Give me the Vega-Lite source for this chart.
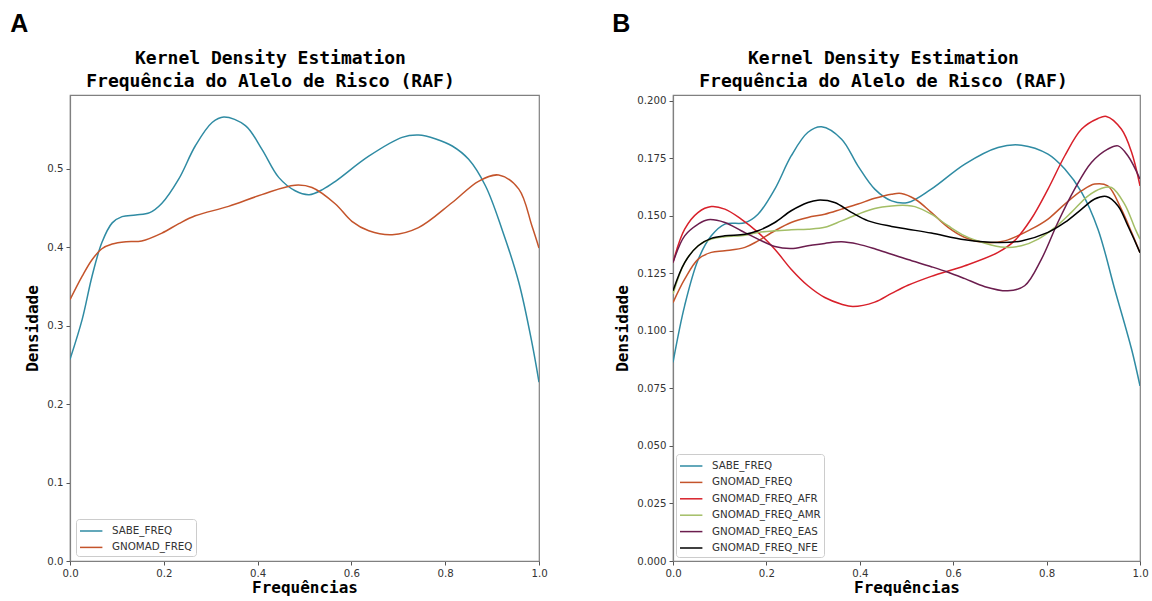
{
  "$schema": "https://vega.github.io/schema/vega-lite/v6.json",
  "background": "white",
  "padding": {"left": 10, "top": 12, "right": 0, "bottom": 3},
  "config": {
    "font": "DejaVu Sans",
    "view": {"stroke": "#808080", "strokeWidth": 1.2},
    "axis": {
      "grid": false,
      "labelFlush": false,
      "domainColor": "#808080",
      "domainWidth": 1.2,
      "tickColor": "#555555",
      "tickSize": 4,
      "labelFont": "DejaVu Sans",
      "labelFontSize": 10.2,
      "labelColor": "#333333",
      "labelPadding": 3,
      "titleFont": "DejaVu Sans Mono",
      "titleFontSize": 16,
      "titleFontWeight": "bold",
      "titleColor": "#000000"
    },
    "legend": {
      "orient": "none",
      "title": null,
      "fillColor": "white",
      "strokeColor": "#cccccc",
      "cornerRadius": 3,
      "padding": 3,
      "symbolType": "M-1,0H1.8",
      "symbolSize": 256,
      "symbolStrokeWidth": 1.5,
      "labelOffset": 15,
      "labelFont": "DejaVu Sans",
      "labelFontSize": 10.3,
      "labelColor": "#333333",
      "rowPadding": 1.4
    }
  },
  "datasets": {
    "a": [
      {"s": "SABE_FREQ", "x": 0, "y": 0.257}, {"s": "SABE_FREQ", "x": 0.026, "y": 0.308}, {"s": "SABE_FREQ", "x": 0.047, "y": 0.363}, {"s": "SABE_FREQ", "x": 0.068, "y": 0.406}, {"s": "SABE_FREQ", "x": 0.09, "y": 0.431}, {"s": "SABE_FREQ", "x": 0.111, "y": 0.439}, {"s": "SABE_FREQ", "x": 0.14, "y": 0.441}, {"s": "SABE_FREQ", "x": 0.17, "y": 0.444}, {"s": "SABE_FREQ", "x": 0.196, "y": 0.456}, {"s": "SABE_FREQ", "x": 0.232, "y": 0.487}, {"s": "SABE_FREQ", "x": 0.267, "y": 0.529}, {"s": "SABE_FREQ", "x": 0.303, "y": 0.559}, {"s": "SABE_FREQ", "x": 0.328, "y": 0.566}, {"s": "SABE_FREQ", "x": 0.374, "y": 0.555}, {"s": "SABE_FREQ", "x": 0.409, "y": 0.525}, {"s": "SABE_FREQ", "x": 0.445, "y": 0.489}, {"s": "SABE_FREQ", "x": 0.48, "y": 0.472}, {"s": "SABE_FREQ", "x": 0.51, "y": 0.467}, {"s": "SABE_FREQ", "x": 0.54, "y": 0.474}, {"s": "SABE_FREQ", "x": 0.566, "y": 0.484}, {"s": "SABE_FREQ", "x": 0.637, "y": 0.516}, {"s": "SABE_FREQ", "x": 0.708, "y": 0.54}, {"s": "SABE_FREQ", "x": 0.743, "y": 0.543}, {"s": "SABE_FREQ", "x": 0.78, "y": 0.538}, {"s": "SABE_FREQ", "x": 0.815, "y": 0.529}, {"s": "SABE_FREQ", "x": 0.85, "y": 0.512}, {"s": "SABE_FREQ", "x": 0.886, "y": 0.478}, {"s": "SABE_FREQ", "x": 0.921, "y": 0.423}, {"s": "SABE_FREQ", "x": 0.957, "y": 0.355}, {"s": "SABE_FREQ", "x": 0.985, "y": 0.278}, {"s": "SABE_FREQ", "x": 1.0, "y": 0.228},
      {"s": "GNOMAD_FREQ", "x": 0, "y": 0.333}, {"s": "GNOMAD_FREQ", "x": 0.026, "y": 0.363}, {"s": "GNOMAD_FREQ", "x": 0.047, "y": 0.384}, {"s": "GNOMAD_FREQ", "x": 0.068, "y": 0.398}, {"s": "GNOMAD_FREQ", "x": 0.09, "y": 0.404}, {"s": "GNOMAD_FREQ", "x": 0.12, "y": 0.407}, {"s": "GNOMAD_FREQ", "x": 0.153, "y": 0.408}, {"s": "GNOMAD_FREQ", "x": 0.196, "y": 0.418}, {"s": "GNOMAD_FREQ", "x": 0.232, "y": 0.43}, {"s": "GNOMAD_FREQ", "x": 0.267, "y": 0.44}, {"s": "GNOMAD_FREQ", "x": 0.338, "y": 0.452}, {"s": "GNOMAD_FREQ", "x": 0.409, "y": 0.467}, {"s": "GNOMAD_FREQ", "x": 0.48, "y": 0.479}, {"s": "GNOMAD_FREQ", "x": 0.516, "y": 0.476}, {"s": "GNOMAD_FREQ", "x": 0.566, "y": 0.455}, {"s": "GNOMAD_FREQ", "x": 0.601, "y": 0.433}, {"s": "GNOMAD_FREQ", "x": 0.637, "y": 0.421}, {"s": "GNOMAD_FREQ", "x": 0.687, "y": 0.416}, {"s": "GNOMAD_FREQ", "x": 0.743, "y": 0.425}, {"s": "GNOMAD_FREQ", "x": 0.815, "y": 0.457}, {"s": "GNOMAD_FREQ", "x": 0.871, "y": 0.484}, {"s": "GNOMAD_FREQ", "x": 0.914, "y": 0.492}, {"s": "GNOMAD_FREQ", "x": 0.957, "y": 0.474}, {"s": "GNOMAD_FREQ", "x": 0.985, "y": 0.427}, {"s": "GNOMAD_FREQ", "x": 1.0, "y": 0.399}
    ],
    "b": [
      {"s": "SABE_FREQ", "x": 0, "y": 0.0863}, {"s": "SABE_FREQ", "x": 0.025, "y": 0.111}, {"s": "SABE_FREQ", "x": 0.054, "y": 0.131}, {"s": "SABE_FREQ", "x": 0.082, "y": 0.1413}, {"s": "SABE_FREQ", "x": 0.111, "y": 0.1464}, {"s": "SABE_FREQ", "x": 0.154, "y": 0.147}, {"s": "SABE_FREQ", "x": 0.182, "y": 0.1507}, {"s": "SABE_FREQ", "x": 0.218, "y": 0.1616}, {"s": "SABE_FREQ", "x": 0.253, "y": 0.176}, {"s": "SABE_FREQ", "x": 0.289, "y": 0.1863}, {"s": "SABE_FREQ", "x": 0.318, "y": 0.1887}, {"s": "SABE_FREQ", "x": 0.361, "y": 0.1833}, {"s": "SABE_FREQ", "x": 0.396, "y": 0.1717}, {"s": "SABE_FREQ", "x": 0.432, "y": 0.1616}, {"s": "SABE_FREQ", "x": 0.468, "y": 0.1565}, {"s": "SABE_FREQ", "x": 0.503, "y": 0.1558}, {"s": "SABE_FREQ", "x": 0.553, "y": 0.1616}, {"s": "SABE_FREQ", "x": 0.625, "y": 0.1725}, {"s": "SABE_FREQ", "x": 0.696, "y": 0.1797}, {"s": "SABE_FREQ", "x": 0.746, "y": 0.1807}, {"s": "SABE_FREQ", "x": 0.803, "y": 0.1768}, {"s": "SABE_FREQ", "x": 0.839, "y": 0.1703}, {"s": "SABE_FREQ", "x": 0.875, "y": 0.1602}, {"s": "SABE_FREQ", "x": 0.91, "y": 0.1442}, {"s": "SABE_FREQ", "x": 0.946, "y": 0.118}, {"s": "SABE_FREQ", "x": 0.982, "y": 0.092}, {"s": "SABE_FREQ", "x": 1.0, "y": 0.0761},
      {"s": "GNOMAD_FREQ", "x": 0, "y": 0.1123}, {"s": "GNOMAD_FREQ", "x": 0.025, "y": 0.1225}, {"s": "GNOMAD_FREQ", "x": 0.054, "y": 0.1312}, {"s": "GNOMAD_FREQ", "x": 0.082, "y": 0.1341}, {"s": "GNOMAD_FREQ", "x": 0.111, "y": 0.1348}, {"s": "GNOMAD_FREQ", "x": 0.154, "y": 0.1363}, {"s": "GNOMAD_FREQ", "x": 0.182, "y": 0.1391}, {"s": "GNOMAD_FREQ", "x": 0.218, "y": 0.1435}, {"s": "GNOMAD_FREQ", "x": 0.253, "y": 0.1471}, {"s": "GNOMAD_FREQ", "x": 0.289, "y": 0.1493}, {"s": "GNOMAD_FREQ", "x": 0.325, "y": 0.1507}, {"s": "GNOMAD_FREQ", "x": 0.361, "y": 0.1529}, {"s": "GNOMAD_FREQ", "x": 0.396, "y": 0.1551}, {"s": "GNOMAD_FREQ", "x": 0.432, "y": 0.1576}, {"s": "GNOMAD_FREQ", "x": 0.468, "y": 0.1594}, {"s": "GNOMAD_FREQ", "x": 0.489, "y": 0.1597}, {"s": "GNOMAD_FREQ", "x": 0.518, "y": 0.1573}, {"s": "GNOMAD_FREQ", "x": 0.553, "y": 0.1515}, {"s": "GNOMAD_FREQ", "x": 0.589, "y": 0.145}, {"s": "GNOMAD_FREQ", "x": 0.625, "y": 0.1406}, {"s": "GNOMAD_FREQ", "x": 0.668, "y": 0.1384}, {"s": "GNOMAD_FREQ", "x": 0.71, "y": 0.1391}, {"s": "GNOMAD_FREQ", "x": 0.767, "y": 0.1442}, {"s": "GNOMAD_FREQ", "x": 0.803, "y": 0.1486}, {"s": "GNOMAD_FREQ", "x": 0.839, "y": 0.1551}, {"s": "GNOMAD_FREQ", "x": 0.875, "y": 0.1609}, {"s": "GNOMAD_FREQ", "x": 0.903, "y": 0.1638}, {"s": "GNOMAD_FREQ", "x": 0.931, "y": 0.163}, {"s": "GNOMAD_FREQ", "x": 0.96, "y": 0.1529}, {"s": "GNOMAD_FREQ", "x": 0.982, "y": 0.1428}, {"s": "GNOMAD_FREQ", "x": 1.0, "y": 0.134},
      {"s": "GNOMAD_FREQ_AFR", "x": 0, "y": 0.1297}, {"s": "GNOMAD_FREQ_AFR", "x": 0.025, "y": 0.1442}, {"s": "GNOMAD_FREQ_AFR", "x": 0.054, "y": 0.1515}, {"s": "GNOMAD_FREQ_AFR", "x": 0.082, "y": 0.154}, {"s": "GNOMAD_FREQ_AFR", "x": 0.111, "y": 0.1529}, {"s": "GNOMAD_FREQ_AFR", "x": 0.146, "y": 0.1486}, {"s": "GNOMAD_FREQ_AFR", "x": 0.182, "y": 0.1428}, {"s": "GNOMAD_FREQ_AFR", "x": 0.218, "y": 0.1355}, {"s": "GNOMAD_FREQ_AFR", "x": 0.253, "y": 0.1268}, {"s": "GNOMAD_FREQ_AFR", "x": 0.289, "y": 0.1196}, {"s": "GNOMAD_FREQ_AFR", "x": 0.325, "y": 0.1145}, {"s": "GNOMAD_FREQ_AFR", "x": 0.361, "y": 0.1116}, {"s": "GNOMAD_FREQ_AFR", "x": 0.385, "y": 0.1106}, {"s": "GNOMAD_FREQ_AFR", "x": 0.432, "y": 0.1125}, {"s": "GNOMAD_FREQ_AFR", "x": 0.468, "y": 0.1163}, {"s": "GNOMAD_FREQ_AFR", "x": 0.503, "y": 0.1198}, {"s": "GNOMAD_FREQ_AFR", "x": 0.553, "y": 0.1237}, {"s": "GNOMAD_FREQ_AFR", "x": 0.625, "y": 0.1283}, {"s": "GNOMAD_FREQ_AFR", "x": 0.696, "y": 0.1341}, {"s": "GNOMAD_FREQ_AFR", "x": 0.731, "y": 0.1391}, {"s": "GNOMAD_FREQ_AFR", "x": 0.767, "y": 0.1486}, {"s": "GNOMAD_FREQ_AFR", "x": 0.803, "y": 0.1616}, {"s": "GNOMAD_FREQ_AFR", "x": 0.839, "y": 0.1761}, {"s": "GNOMAD_FREQ_AFR", "x": 0.875, "y": 0.1877}, {"s": "GNOMAD_FREQ_AFR", "x": 0.91, "y": 0.1923}, {"s": "GNOMAD_FREQ_AFR", "x": 0.928, "y": 0.1932}, {"s": "GNOMAD_FREQ_AFR", "x": 0.96, "y": 0.1877}, {"s": "GNOMAD_FREQ_AFR", "x": 0.982, "y": 0.1776}, {"s": "GNOMAD_FREQ_AFR", "x": 1.0, "y": 0.163},
      {"s": "GNOMAD_FREQ_AMR", "x": 0, "y": 0.116}, {"s": "GNOMAD_FREQ_AMR", "x": 0.025, "y": 0.1297}, {"s": "GNOMAD_FREQ_AMR", "x": 0.054, "y": 0.137}, {"s": "GNOMAD_FREQ_AMR", "x": 0.082, "y": 0.1399}, {"s": "GNOMAD_FREQ_AMR", "x": 0.111, "y": 0.1409}, {"s": "GNOMAD_FREQ_AMR", "x": 0.154, "y": 0.1416}, {"s": "GNOMAD_FREQ_AMR", "x": 0.182, "y": 0.1428}, {"s": "GNOMAD_FREQ_AMR", "x": 0.218, "y": 0.1435}, {"s": "GNOMAD_FREQ_AMR", "x": 0.253, "y": 0.1439}, {"s": "GNOMAD_FREQ_AMR", "x": 0.289, "y": 0.1442}, {"s": "GNOMAD_FREQ_AMR", "x": 0.325, "y": 0.145}, {"s": "GNOMAD_FREQ_AMR", "x": 0.361, "y": 0.1478}, {"s": "GNOMAD_FREQ_AMR", "x": 0.396, "y": 0.1507}, {"s": "GNOMAD_FREQ_AMR", "x": 0.432, "y": 0.1532}, {"s": "GNOMAD_FREQ_AMR", "x": 0.468, "y": 0.1543}, {"s": "GNOMAD_FREQ_AMR", "x": 0.5, "y": 0.1545}, {"s": "GNOMAD_FREQ_AMR", "x": 0.518, "y": 0.154}, {"s": "GNOMAD_FREQ_AMR", "x": 0.553, "y": 0.1507}, {"s": "GNOMAD_FREQ_AMR", "x": 0.589, "y": 0.1457}, {"s": "GNOMAD_FREQ_AMR", "x": 0.625, "y": 0.1413}, {"s": "GNOMAD_FREQ_AMR", "x": 0.668, "y": 0.1381}, {"s": "GNOMAD_FREQ_AMR", "x": 0.71, "y": 0.1363}, {"s": "GNOMAD_FREQ_AMR", "x": 0.746, "y": 0.137}, {"s": "GNOMAD_FREQ_AMR", "x": 0.782, "y": 0.1399}, {"s": "GNOMAD_FREQ_AMR", "x": 0.818, "y": 0.145}, {"s": "GNOMAD_FREQ_AMR", "x": 0.853, "y": 0.1515}, {"s": "GNOMAD_FREQ_AMR", "x": 0.889, "y": 0.1587}, {"s": "GNOMAD_FREQ_AMR", "x": 0.917, "y": 0.1619}, {"s": "GNOMAD_FREQ_AMR", "x": 0.939, "y": 0.1623}, {"s": "GNOMAD_FREQ_AMR", "x": 0.967, "y": 0.1551}, {"s": "GNOMAD_FREQ_AMR", "x": 0.99, "y": 0.1442}, {"s": "GNOMAD_FREQ_AMR", "x": 1.0, "y": 0.1399},
      {"s": "GNOMAD_FREQ_EAS", "x": 0, "y": 0.1297}, {"s": "GNOMAD_FREQ_EAS", "x": 0.025, "y": 0.1413}, {"s": "GNOMAD_FREQ_EAS", "x": 0.054, "y": 0.1464}, {"s": "GNOMAD_FREQ_EAS", "x": 0.075, "y": 0.1483}, {"s": "GNOMAD_FREQ_EAS", "x": 0.111, "y": 0.1471}, {"s": "GNOMAD_FREQ_EAS", "x": 0.146, "y": 0.1435}, {"s": "GNOMAD_FREQ_EAS", "x": 0.182, "y": 0.1399}, {"s": "GNOMAD_FREQ_EAS", "x": 0.218, "y": 0.1367}, {"s": "GNOMAD_FREQ_EAS", "x": 0.253, "y": 0.1358}, {"s": "GNOMAD_FREQ_EAS", "x": 0.289, "y": 0.137}, {"s": "GNOMAD_FREQ_EAS", "x": 0.325, "y": 0.138}, {"s": "GNOMAD_FREQ_EAS", "x": 0.361, "y": 0.1387}, {"s": "GNOMAD_FREQ_EAS", "x": 0.396, "y": 0.1377}, {"s": "GNOMAD_FREQ_EAS", "x": 0.432, "y": 0.1357}, {"s": "GNOMAD_FREQ_EAS", "x": 0.468, "y": 0.1333}, {"s": "GNOMAD_FREQ_EAS", "x": 0.503, "y": 0.131}, {"s": "GNOMAD_FREQ_EAS", "x": 0.553, "y": 0.1279}, {"s": "GNOMAD_FREQ_EAS", "x": 0.589, "y": 0.1255}, {"s": "GNOMAD_FREQ_EAS", "x": 0.625, "y": 0.1227}, {"s": "GNOMAD_FREQ_EAS", "x": 0.668, "y": 0.1192}, {"s": "GNOMAD_FREQ_EAS", "x": 0.717, "y": 0.1174}, {"s": "GNOMAD_FREQ_EAS", "x": 0.753, "y": 0.1196}, {"s": "GNOMAD_FREQ_EAS", "x": 0.789, "y": 0.1312}, {"s": "GNOMAD_FREQ_EAS", "x": 0.824, "y": 0.1471}, {"s": "GNOMAD_FREQ_EAS", "x": 0.86, "y": 0.1616}, {"s": "GNOMAD_FREQ_EAS", "x": 0.896, "y": 0.1732}, {"s": "GNOMAD_FREQ_EAS", "x": 0.931, "y": 0.179}, {"s": "GNOMAD_FREQ_EAS", "x": 0.953, "y": 0.1804}, {"s": "GNOMAD_FREQ_EAS", "x": 0.974, "y": 0.1761}, {"s": "GNOMAD_FREQ_EAS", "x": 1.0, "y": 0.166},
      {"s": "GNOMAD_FREQ_NFE", "x": 0, "y": 0.1174}, {"s": "GNOMAD_FREQ_NFE", "x": 0.025, "y": 0.1297}, {"s": "GNOMAD_FREQ_NFE", "x": 0.054, "y": 0.137}, {"s": "GNOMAD_FREQ_NFE", "x": 0.082, "y": 0.1402}, {"s": "GNOMAD_FREQ_NFE", "x": 0.111, "y": 0.1413}, {"s": "GNOMAD_FREQ_NFE", "x": 0.154, "y": 0.142}, {"s": "GNOMAD_FREQ_NFE", "x": 0.182, "y": 0.1435}, {"s": "GNOMAD_FREQ_NFE", "x": 0.218, "y": 0.1471}, {"s": "GNOMAD_FREQ_NFE", "x": 0.253, "y": 0.1522}, {"s": "GNOMAD_FREQ_NFE", "x": 0.289, "y": 0.1558}, {"s": "GNOMAD_FREQ_NFE", "x": 0.31, "y": 0.1568}, {"s": "GNOMAD_FREQ_NFE", "x": 0.346, "y": 0.1558}, {"s": "GNOMAD_FREQ_NFE", "x": 0.382, "y": 0.1515}, {"s": "GNOMAD_FREQ_NFE", "x": 0.418, "y": 0.1478}, {"s": "GNOMAD_FREQ_NFE", "x": 0.468, "y": 0.1454}, {"s": "GNOMAD_FREQ_NFE", "x": 0.503, "y": 0.1442}, {"s": "GNOMAD_FREQ_NFE", "x": 0.553, "y": 0.1425}, {"s": "GNOMAD_FREQ_NFE", "x": 0.625, "y": 0.1396}, {"s": "GNOMAD_FREQ_NFE", "x": 0.696, "y": 0.1384}, {"s": "GNOMAD_FREQ_NFE", "x": 0.746, "y": 0.1391}, {"s": "GNOMAD_FREQ_NFE", "x": 0.803, "y": 0.1428}, {"s": "GNOMAD_FREQ_NFE", "x": 0.839, "y": 0.1471}, {"s": "GNOMAD_FREQ_NFE", "x": 0.875, "y": 0.1529}, {"s": "GNOMAD_FREQ_NFE", "x": 0.903, "y": 0.1573}, {"s": "GNOMAD_FREQ_NFE", "x": 0.928, "y": 0.1584}, {"s": "GNOMAD_FREQ_NFE", "x": 0.953, "y": 0.1543}, {"s": "GNOMAD_FREQ_NFE", "x": 0.974, "y": 0.1457}, {"s": "GNOMAD_FREQ_NFE", "x": 1.0, "y": 0.134}
    ]
  },
  "spacing": 64,
  "hconcat": [
    {
      "title": {"text": "A", "anchor": "start", "dx": -14, "offset": 12, "font": "Liberation Sans", "fontSize": 25, "fontWeight": "bold", "color": "#000000"},
      "vconcat": [
        {
          "title": {"text": ["Kernel Density Estimation", "Frequência do Alelo de Risco (RAF)"], "font": "DejaVu Sans Mono", "fontSize": 18, "fontWeight": "bold", "lineHeight": 23, "anchor": "middle", "dx": -34, "offset": 4, "color": "#000000"},
          "width": 469,
          "height": 466,
          "data": {"name": "a"},
          "mark": {"type": "line", "interpolate": "catmull-rom", "strokeWidth": 1.5, "clip": true},
          "encoding": {
            "x": {"field": "x", "type": "quantitative", "scale": {"domain": [0, 1], "nice": false}, "axis": {"title": "Frequências", "values": [0, 0.2, 0.4, 0.6, 0.8, 1.0], "format": ".1f", "titlePadding": 1, "labelFlush": false}},
            "y": {"field": "y", "type": "quantitative", "scale": {"domain": [0, 0.594], "nice": false}, "axis": {"title": "Densidade", "values": [0, 0.1, 0.2, 0.3, 0.4, 0.5], "format": ".1f", "titlePadding": 6, "labelFlush": false}},
            "color": {"field": "s", "type": "nominal", "scale": {"domain": ["SABE_FREQ", "GNOMAD_FREQ"], "range": ["#2f8ba3", "#c4542b"]}, "legend": {"legendX": 6, "legendY": 424}},
            "order": {"field": "x", "type": "quantitative"}
          }
        }
      ]
    },
    {
      "title": {"text": "B", "anchor": "start", "dx": -2, "offset": 12, "font": "Liberation Sans", "fontSize": 25, "fontWeight": "bold", "color": "#000000"},
      "vconcat": [
        {
          "title": {"text": ["Kernel Density Estimation", "Frequência do Alelo de Risco (RAF)"], "font": "DejaVu Sans Mono", "fontSize": 18, "fontWeight": "bold", "lineHeight": 23, "anchor": "middle", "dx": -23, "offset": 4, "color": "#000000"},
          "width": 467,
          "height": 466,
          "data": {"name": "b"},
          "mark": {"type": "line", "interpolate": "catmull-rom", "strokeWidth": 1.5, "clip": true},
          "encoding": {
            "x": {"field": "x", "type": "quantitative", "scale": {"domain": [0, 1], "nice": false}, "axis": {"title": "Frequências", "values": [0, 0.2, 0.4, 0.6, 0.8, 1.0], "format": ".1f", "titlePadding": 1, "labelFlush": false}},
            "y": {"field": "y", "type": "quantitative", "scale": {"domain": [0, 0.2025], "nice": false}, "axis": {"title": "Densidade", "values": [0, 0.025, 0.05, 0.075, 0.1, 0.125, 0.15, 0.175, 0.2], "format": ".3f", "titlePadding": 6, "labelFlush": false}},
            "color": {"field": "s", "type": "nominal", "scale": {"domain": ["SABE_FREQ", "GNOMAD_FREQ", "GNOMAD_FREQ_AFR", "GNOMAD_FREQ_AMR", "GNOMAD_FREQ_EAS", "GNOMAD_FREQ_NFE"], "range": ["#2f8ba3", "#c4542b", "#d8202a", "#a3be66", "#6b1d4e", "#000000"]}, "legend": {"legendX": 3, "legendY": 359}},
            "order": {"field": "x", "type": "quantitative"}
          }
        }
      ]
    }
  ],
  "resolve": {"scale": {"color": "independent", "x": "independent", "y": "independent"}, "legend": {"color": "independent"}}
}
